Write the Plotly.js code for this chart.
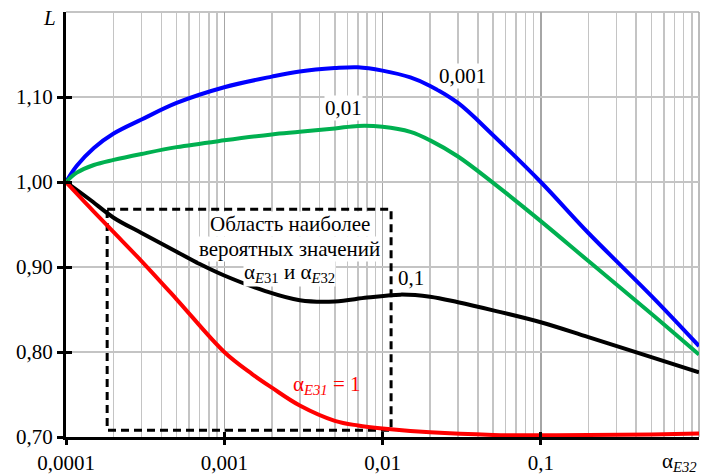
<!DOCTYPE html>
<html>
<head>
<meta charset="utf-8">
<script src="https://cdn.plot.ly/plotly-3.0.1.min.js"></script>
<style>html,body{margin:0;padding:0;background:#fff;}#chart{width:704px;height:475px;}</style>
</head>
<body>
<div id="chart"></div>
<script>
// ---- data ----
const xBlue  = [0.0001, 0.000117, 0.00015, 0.0002, 0.0003, 0.0005, 0.001, 0.002, 0.003, 0.005, 0.007, 0.01, 0.015, 0.02, 0.03, 0.05, 0.1, 0.2, 0.5, 1];
const yBlue  = [1.000, 1.019, 1.040, 1.057, 1.0735, 1.093, 1.1115, 1.124, 1.130, 1.134, 1.135, 1.131, 1.123, 1.113, 1.093, 1.055, 1.000, 0.940, 0.866, 0.807];

const xGreen = [0.0001, 0.000117, 0.00015, 0.0002, 0.0003, 0.0005, 0.001, 0.002, 0.003, 0.005, 0.007, 0.01, 0.015, 0.02, 0.03, 0.05, 0.1, 0.2, 0.5, 1];
const yGreen = [1.000, 1.011, 1.020, 1.026, 1.033, 1.041, 1.049, 1.056, 1.059, 1.063, 1.066, 1.065, 1.059, 1.049, 1.030, 0.999, 0.954, 0.907, 0.845, 0.797];

const xBlack = [0.0001, 0.00014, 0.0002, 0.0003, 0.0005, 0.0007, 0.001, 0.0018, 0.003, 0.005, 0.008, 0.013, 0.02, 0.03, 0.05, 0.1, 0.2, 0.5, 1];
const yBlack = [1.000, 0.980, 0.958, 0.940, 0.918, 0.9035, 0.890, 0.872, 0.861, 0.8595, 0.864, 0.8675, 0.865, 0.8585, 0.849, 0.835, 0.8175, 0.794, 0.776];

const xRed   = [0.0001, 0.00014, 0.0002, 0.0003, 0.0005, 0.001, 0.0015, 0.002, 0.003, 0.005, 0.007, 0.01, 0.02, 0.05, 0.1, 0.2, 0.5, 1];
const yRed   = [1.000, 0.971, 0.941, 0.907, 0.862, 0.800, 0.774, 0.758, 0.737, 0.719, 0.7135, 0.710, 0.7055, 0.7025, 0.702, 0.7025, 0.703, 0.704];

// dashed region of most probable values
const xBox = [0.000182, 0.01133, 0.01133, 0.000182, 0.000182];
const yBox = [0.968, 0.968, 0.708, 0.708, 0.968];

const xTickVals = [0.0001, 0.001, 0.01, 0.1];
const xTickText = ['0,0001', '0,001', '0,01', '0,1'];
const yTickVals = [0.70, 0.80, 0.90, 1.00, 1.10];
const yTickText = ['0,70', '0,80', '0,90', '1,00', '1,10'];
const minorMultipliers = [2, 3, 4, 5, 6, 7, 8, 9];
const decades = [0.0001, 0.001, 0.01, 0.1];

const curveLabels = ['0,001', '0,01', '0,1'];
const regionLines = ['Область наиболее', 'вероятных значений', 'α<sub><i>E</i>31</sub> и α<sub><i>E</i>32</sub>'];

// ---- chart ----
const minorVals = [];
decades.forEach(d => minorMultipliers.forEach(m => minorVals.push(d * m)));

const FONT = '"Liberation Serif", "Times New Roman", serif';
const FS = 21;
const lw = 4;

const traces = [
  {x: xBox, y: yBox, mode: 'lines', line: {color: '#000', width: 3, dash: '8px,5px'}, hoverinfo: 'skip'},
  {x: xBlue, y: yBlue, mode: 'lines', line: {color: '#0000ff', width: lw, shape: 'spline', smoothing: 1}},
  {x: xGreen, y: yGreen, mode: 'lines', line: {color: '#00b050', width: lw, shape: 'spline', smoothing: 1}},
  {x: xBlack, y: yBlack, mode: 'lines', line: {color: '#000000', width: lw, shape: 'spline', smoothing: 1}},
  {x: xRed, y: yRed, mode: 'lines', line: {color: '#ff0000', width: lw, shape: 'spline', smoothing: 1}},
  // overlay axes for inward ticks
  {x: [0.0001], y: [0.7], xaxis: 'x2', yaxis: 'y2', mode: 'markers', marker: {opacity: 0}, hoverinfo: 'skip'}
];

const L10 = Math.log10;
const ann = (x, y, text, opts) => Object.assign({
  x: L10(x), y: y, xref: 'x', yref: 'y', text: text, showarrow: false,
  font: {family: FONT, size: FS, color: '#000'}, bgcolor: '#ffffff', borderpad: 0
}, opts || {});

const layout = {
  width: 704, height: 475,
  margin: {l: 66, r: 5, t: 12, b: 38},
  paper_bgcolor: '#fff', plot_bgcolor: '#fff',
  showlegend: false,
  font: {family: FONT, size: FS, color: '#000'},
  xaxis: {
    type: 'log', range: [-4, 0],
    tickvals: xTickVals, ticktext: xTickText,
    showgrid: true, gridcolor: '#a6a6a6', gridwidth: 1.5,
    minor: {tickvals: minorVals, showgrid: true, gridcolor: '#c4c4c4', gridwidth: 1.5, ticks: ''},
    showline: true, linecolor: '#000', linewidth: 3,
    ticks: 'outside', ticklen: 5, tickwidth: 3, tickcolor: '#000',
    tickfont: {family: FONT, size: FS, color: '#000'},
    zeroline: false
  },
  yaxis: {
    range: [0.70, 1.20],
    tickvals: yTickVals, ticktext: yTickText,
    showgrid: true, gridcolor: '#c4c4c4', gridwidth: 1.5,
    showline: true, linecolor: '#000', linewidth: 3,
    ticks: 'outside', ticklen: 6, tickwidth: 3, tickcolor: '#000',
    tickfont: {family: FONT, size: FS, color: '#000'},
    zeroline: false
  },
  xaxis2: {
    type: 'log', range: [-4, 0], overlaying: 'x', anchor: 'y2',
    tickvals: xTickVals, showticklabels: false, showgrid: false, showline: false,
    ticks: 'inside', ticklen: 5, tickwidth: 3, tickcolor: '#000', zeroline: false
  },
  yaxis2: {
    range: [0.70, 1.20], overlaying: 'y', anchor: 'x2',
    tickvals: yTickVals, showticklabels: false, showgrid: false, showline: false,
    ticks: 'inside', ticklen: 6, tickwidth: 3, tickcolor: '#000', zeroline: false
  },
  shapes: [
    {type: 'line', xref: 'paper', yref: 'paper', x0: 0, x1: 1, y0: 1, y1: 1, line: {color: '#b0b0b0', width: 1.5}, layer: 'below'},
    {type: 'line', xref: 'paper', yref: 'paper', x0: 1, x1: 1, y0: 0, y1: 1, line: {color: '#a6a6a6', width: 1.5}, layer: 'below'}
  ],
  annotations: [
    ann(0.032, 1.125, curveLabels[0]),
    ann(0.00568, 1.087, curveLabels[1]),
    ann(0.0151, 0.8875, curveLabels[2], {bgcolor: 'rgba(0,0,0,0)'}),
    ann(0.0026, 0.951, regionLines[0]),
    ann(0.0026, 0.9215, regionLines[1]),
    ann(0.0026, 0.893, regionLines[2]),
    ann(0.00446, 0.761, 'α<sub><i>E31</i></sub> = 1', {font: {family: FONT, size: FS, color: '#ff0000'}, bgcolor: 'rgba(0,0,0,0)'}),
    {x: 1.0, y: -0.058, xref: 'paper', yref: 'paper', text: 'α<sub><i>E32</i></sub>', showarrow: false,
     xanchor: 'right', yanchor: 'middle', font: {family: FONT, size: FS, color: '#000'}},
    {x: -0.012, y: 0.985, xref: 'paper', yref: 'paper', text: '<i>L</i>', showarrow: false,
     xanchor: 'right', yanchor: 'middle', font: {family: FONT, size: FS, color: '#000'}}
  ]
};

Plotly.newPlot('chart', traces, layout, {staticPlot: true, displayModeBar: false});
</script>
</body>
</html>
